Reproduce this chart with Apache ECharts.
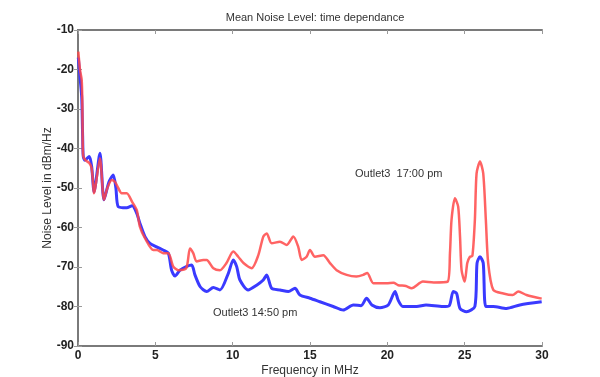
<!DOCTYPE html>
<html>
<head>
<meta charset="utf-8">
<script src="https://cdn.jsdelivr.net/npm/echarts@6/dist/echarts.min.js"></script>
<style>
  html, body { margin: 0; padding: 0; background: #fff; }
  #chart { width: 600px; height: 377px; }
</style>
</head>
<body>
<div id="chart"></div>
<script>
// Outlet3 17:00 pm (red)
const freqRed = [0.02, 0.13, 0.24, 0.28, 0.3, 0.34, 0.5, 0.73, 0.88, 0.99, 1.03, 1.42, 1.68, 1.9, 2.18, 2.4, 2.6, 2.82, 3.15, 3.5, 3.8, 4.0, 4.33, 4.87, 5.1, 5.5, 5.84, 6.16, 6.48, 7.0, 7.24, 7.45, 7.67, 8.1, 8.32, 8.75, 9.18, 9.6, 10.04, 10.36, 10.7, 11.23, 11.66, 11.98, 12.2, 12.52, 13.06, 13.5, 13.92, 14.24, 14.46, 14.78, 15.0, 15.32, 15.86, 16.29, 16.72, 17.37, 18.0, 18.44, 18.7, 19.1, 19.95, 20.4, 20.7, 21.2, 21.57, 22.3, 23.0, 23.9, 24.05, 24.15, 24.37, 24.58, 24.7, 24.8, 25.0, 25.17, 25.34, 25.5, 25.66, 25.77, 25.99, 26.2, 26.37, 26.52, 26.85, 27.5, 28.1, 28.47, 29.0, 29.98];
const noiseRed = [-15.5, -20.1, -22.7, -28.6, -37, -42, -43, -43.7, -45, -49.5, -51.3, -42.5, -53, -50, -48, -48.5, -50, -51.3, -51.3, -53.5, -55.6, -59.8, -62.7, -65.7, -65.7, -66.5, -66.5, -69.9, -70.8, -70.3, -65.3, -66.5, -68.6, -68.2, -68.2, -70.3, -70.8, -69, -66.1, -67.4, -69, -70.3, -67, -62.3, -61.5, -64, -63.6, -64.4, -62.3, -64.9, -68.2, -67.4, -65.7, -67.4, -67, -69, -70.8, -72, -72.4, -72, -71.5, -74.1, -74.1, -74, -74.6, -74.8, -75.4, -73.7, -73.9, -73.7, -66.5, -58.1, -52.6, -54.7, -62.3, -70.8, -73.7, -69, -67.4, -67.2, -58.1, -46.3, -43.3, -46.3, -58.1, -69, -75.8, -76.7, -77.1, -76.2, -77.1, -78];

// Outlet3 14:50 pm (blue)
const freqBlue = [0.02, 0.13, 0.24, 0.3, 0.34, 0.45, 0.73, 0.88, 0.99, 1.03, 1.42, 1.68, 2.0, 2.28, 2.45, 2.6, 3.15, 3.5, 3.8, 4.0, 4.33, 4.65, 5.08, 5.5, 5.84, 6.05, 6.27, 6.6, 7.0, 7.35, 7.56, 7.9, 8.32, 8.75, 9.18, 9.72, 10.04, 10.26, 10.47, 11.0, 11.55, 11.98, 12.2, 12.52, 13.06, 13.6, 14.03, 14.35, 15.0, 15.64, 16.5, 17.15, 17.8, 18.3, 18.66, 19.0, 19.52, 20.06, 20.5, 20.7, 21.0, 21.9, 22.5, 23.6, 24.0, 24.26, 24.48, 24.7, 25.12, 25.66, 25.8, 25.99, 26.2, 26.37, 26.85, 27.7, 28.57, 29.98];
const noiseBlue = [-17, -22, -27, -37, -42, -43, -42, -44.5, -49.7, -51, -41.2, -53, -48.5, -46.7, -50, -54.7, -55, -54.5, -56.4, -58.9, -62.3, -64, -64.9, -65.7, -66.5, -70.8, -72.3, -70.8, -69.9, -69.5, -72, -75, -76.2, -75.2, -75.8, -71.6, -68.2, -69.9, -73.3, -75.8, -74.6, -73.3, -72, -75.4, -75.8, -76.2, -75.4, -77.1, -77.9, -78.8, -80, -80.9, -79.6, -79.8, -77.9, -79.6, -80.3, -79.6, -76.2, -78.4, -80, -80, -79.6, -80, -79.8, -76.2, -76.7, -80.5, -81.3, -80, -69, -67.4, -69, -80, -80, -80.5, -79.6, -78.8];

const labelRed = 'Outlet3  17:00 pm';
const labelBlue = 'Outlet3 14:50 pm';

const pairs = (xs, ys) => xs.map((x, i) => [x, ys[i]]);

const myChart = echarts.init(document.getElementById('chart'));

const frameAxis = {
  min: 0, max: 30, interval: 5,
  axisLine: { show: true, lineStyle: { color: '#7a7a7a', width: 2 } },
  axisTick: { show: true, inside: true, length: 4, lineStyle: { color: '#9a9a9a' } },
  splitLine: { show: false }
};

const option = {
  animation: false,
  textStyle: { fontFamily: 'Liberation Sans, Arial, sans-serif' },
  title: {
    text: 'Mean Noise Level: time dependance',
    left: 310, top: 7, textAlign: 'center',
    textStyle: { fontSize: 11, fontWeight: 'normal', color: '#333' }
  },
  grid: { left: 78, right: 58, top: 30, bottom: 31, outerBoundsMode: 'none', containLabel: false },
  xAxis: [
    Object.assign({}, frameAxis, {
      type: 'value', position: 'bottom',
      name: 'Frequency in MHz', nameLocation: 'middle', nameGap: 19,
      nameMoveOverlap: false,
      nameTextStyle: { fontSize: 12, color: '#333' },
      axisLabel: { fontSize: 12, color: '#222', fontWeight: 'bold', margin: 4 }
    }),
    Object.assign({}, frameAxis, {
      type: 'value', position: 'top',
      axisLabel: { show: false }
    })
  ],
  yAxis: [
    Object.assign({}, frameAxis, {
      type: 'value', position: 'left', min: -90, max: -10, interval: 10,
      name: 'Noise Level in dBm/Hz', nameLocation: 'middle', nameGap: 24,
      nameMoveOverlap: false,
      nameTextStyle: { fontSize: 12, color: '#333' },
      axisLabel: { fontSize: 12, color: '#222', fontWeight: 'bold', margin: 4 }
    }),
    Object.assign({}, frameAxis, {
      type: 'value', position: 'right', min: -90, max: -10, interval: 10,
      axisLabel: { show: false }
    })
  ],
  series: [
    {
      name: labelBlue,
      type: 'line',
      data: pairs(freqBlue, noiseBlue),
      showSymbol: false,
      smooth: 0.25,
      lineStyle: { color: '#3a3aff', width: 3 }
    },
    {
      name: labelRed,
      type: 'line',
      data: pairs(freqRed, noiseRed),
      showSymbol: false,
      smooth: 0.25,
      lineStyle: { color: '#ff4848', width: 2.5, opacity: 0.85 }
    }
  ],
  graphic: [
    {
      type: 'text', left: 355, top: 168,
      style: { text: labelRed, fontSize: 11, fill: '#333', fontFamily: 'Liberation Sans, Arial, sans-serif' }
    },
    {
      type: 'text', left: 213, top: 307,
      style: { text: labelBlue, fontSize: 11, fill: '#333', fontFamily: 'Liberation Sans, Arial, sans-serif' }
    }
  ]
};

myChart.setOption(option);
</script>
</body>
</html>
